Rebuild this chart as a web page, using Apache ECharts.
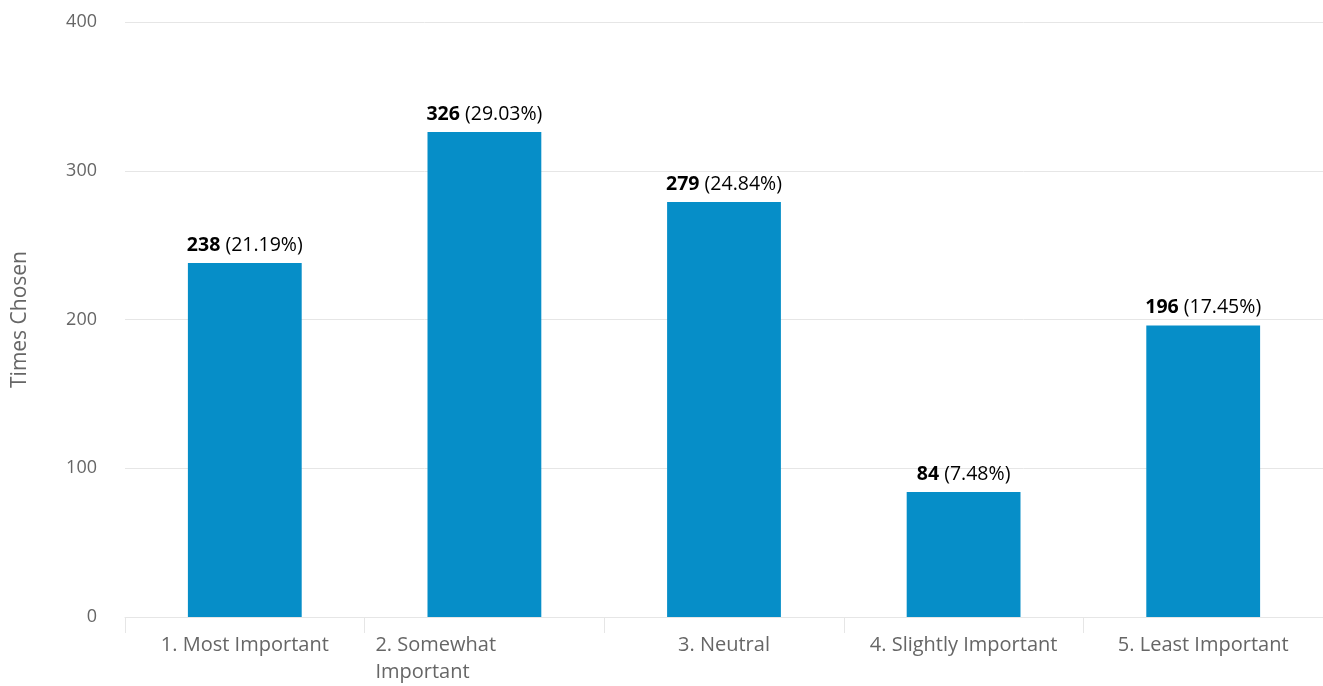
<!DOCTYPE html>
<html>
<head>
<meta charset="utf-8">
<script src="https://cdn.jsdelivr.net/npm/echarts@6/dist/echarts.min.js"></script>
<style>
html,body{margin:0;padding:0;background:#fff;}
#chart{width:1323px;height:686px;}
</style>
</head>
<body>
<div id="chart"></div>
<script>
const categories = ['1. Most Important', '2. Somewhat Important', '3. Neutral', '4. Slightly Important', '5. Least Important'];
const timesChosen = [238, 326, 279, 84, 196];
const percentLabels = ['21.19%', '29.03%', '24.84%', '7.48%', '17.45%'];
const yTicks = [0, 100, 200, 300, 400];

const FONT = '"Open Sans", "Noto Sans", sans-serif';
const chart = echarts.init(document.getElementById('chart'), null, {renderer: 'canvas'});

chart.setOption({
  animation: false,
  grid: {left: 125, right: 0, top: 22, bottom: 66, containLabel: false},
  xAxis: {
    type: 'category',
    data: categories,
    axisLine: {show: true, lineStyle: {color: '#e6e6e6', width: 1}},
    axisTick: {show: true, length: 16, lineStyle: {color: '#e6e6e6'}},
    axisLabel: {
      fontFamily: FONT, fontSize: 20, color: '#666666', margin: 15, lineHeight: 27,
      interval: 0,
      formatter: function (v) {
        if (v === '2. Somewhat Important') return '{w|2. Somewhat}\n{w|Important}';
        return v;
      },
      rich: {
        w: {width: 218, align: 'left', fontFamily: FONT, fontSize: 20, color: '#666666', lineHeight: 27}
      }
    }
  },
  yAxis: {
    type: 'value',
    min: yTicks[0], max: yTicks[yTicks.length - 1], interval: 100,
    name: 'Times Chosen',
    nameLocation: 'middle',
    nameGap: 94,
    nameRotate: 90,
    nameTextStyle: {fontFamily: FONT, fontSize: 21, color: '#666666'},
    axisLine: {show: false},
    axisTick: {show: false},
    axisLabel: {fontFamily: FONT, fontSize: 18, color: '#666666', margin: 28, padding: [6, 0, 0, 0]},
    splitLine: {show: true, lineStyle: {color: '#e6e6e6', width: 1}}
  },
  series: [{
    type: 'bar',
    data: timesChosen,
    barWidth: '47.5%',
    itemStyle: {color: '#068ec8'},
    label: {
      show: true,
      position: 'top',
      distance: 8,
      formatter: function (p) {
        return '{b|' + p.value + '}{n| (' + percentLabels[p.dataIndex] + ')}';
      },
      rich: {
        b: {fontFamily: FONT, fontSize: 19.5, fontWeight: 'bold', color: '#000000', lineHeight: 20},
        n: {fontFamily: FONT, fontSize: 19.5, color: '#000000', lineHeight: 20}
      }
    }
  }]
});
</script>
</body>
</html>
